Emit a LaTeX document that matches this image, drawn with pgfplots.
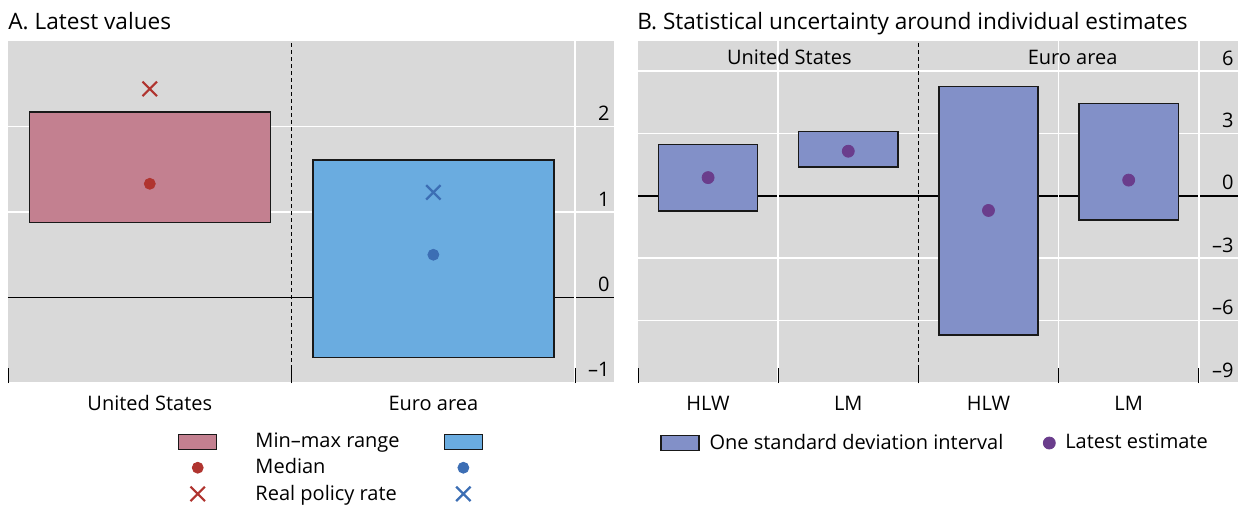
\documentclass[border=0pt]{standalone}
\usepackage{pgfplots}
\pgfplotsset{compat=1.18}
\usepackage{fontspec}
\setmainfont{Open Sans}

\definecolor{bg}{HTML}{D9D9D9}
\definecolor{usbox}{HTML}{C38090}
\definecolor{usmark}{HTML}{B0342F}
\definecolor{eabox}{HTML}{6AACE0}
\definecolor{eamark}{HTML}{3C6EB4}
\definecolor{bbox}{HTML}{8290C8}
\definecolor{bdot}{HTML}{6A3D8C}

\pgfplotsset{
  panel/.style={
    scale only axis, height=171pt,
    axis background/.style={fill=bg},
    axis line style={draw=none},
    ymajorgrids, major grid style={white, line width=0.8pt},
    xtick pos=bottom, ytick pos=right, yticklabel pos=right,
    major tick length=0pt,
    tick label style={font=\fontsize{10}{12}\selectfont},
    yticklabel style={anchor=base east, inner xsep=0pt, xshift=-2pt, yshift=3pt},
    xticklabel style={anchor=base, yshift=-13.8pt},
    legend cell align=left,
    legend style={draw=none, fill=none, inner sep=0pt, outer sep=0pt,
      font=\fontsize{10}{12}\selectfont},
    clip=false,
  },
  rangebox/.style={fill=#1, draw=black!90, line width=0.75pt, line join=miter},
  boxleg/.style={legend image code/.code={\draw[##1] (0pt,-3.75pt) rectangle (19pt,3.75pt);}},
  markleg/.style={legend image code/.code={\draw[##1] plot coordinates {(9.5pt,0pt)};}},
}
\tikzset{sep tick/.style={black, line width=0.6pt}}

\begin{document}
\begin{tikzpicture}
\useasboundingbox (0,0) rectangle (623pt,-253.5pt);
\node[anchor=base west, inner sep=0pt, font=\fontsize{11.3}{13}\selectfont] at (4pt,-14.7pt) {A. Latest values};
\node[anchor=base west, inner sep=0pt, font=\fontsize{11.3}{13}\selectfont] at (318.5pt,-14.7pt) {B. Statistical uncertainty around individual estimates};

% Panel A
\begin{axis}[panel, at={(4pt,-191.5pt)}, anchor=south west, width=303pt,
  xmin=-0.5, xmax=1.637, ymin=-1, ymax=3,
  xtick={0,1}, xticklabels={United States, Euro area},
  ytick={-1,0,1,2}, yticklabels={–1,0,1,2},
  legend columns=2,
  legend style={at={(axis description cs:0.2805,-0.2485)}, anchor=west,
    row sep=0pt,
    /tikz/every odd column/.append style={column sep=17pt},
    /tikz/every even column/.append style={column sep=20pt}},
]
\addplot[black, line width=0.6pt, forget plot] coordinates {(-0.5,0) (1.637,0)};
\draw[white, line width=0.8pt] (axis cs:1.5,-1) -- (axis cs:1.5,3);
\draw[black, line width=0.5pt, dash pattern=on 2pt off 1.5pt] (axis cs:0.5,-1) -- (axis cs:0.5,3);
\addplot[boxleg, rangebox=usbox]
  coordinates {(-0.425,0.88) (0.425,0.88) (0.425,2.17) (-0.425,2.17)} -- cycle;
\addlegendentry{Min–max range}
\addplot[boxleg, rangebox=eabox]
  coordinates {(0.575,-0.70) (1.425,-0.70) (1.425,1.61) (0.575,1.61)} -- cycle;
\addlegendentry{}
\addplot[markleg, only marks, mark=*, mark size=2.75pt, color=usmark] coordinates {(0,1.33)};
\addlegendentry{Median}
\addplot[markleg, only marks, mark=*, mark size=2.75pt, color=eamark] coordinates {(1,0.50)};
\addlegendentry{}
\addplot[markleg, only marks, mark=x, mark size=5.1pt, line width=1.1pt, color=usmark] coordinates {(0,2.44)};
\addlegendentry{Real policy rate}
\addplot[markleg, only marks, mark=x, mark size=5.1pt, line width=1.1pt, color=eamark] coordinates {(1,1.23)};
\addlegendentry{}
\draw[sep tick] (axis cs:-0.498,-1) -- (axis cs:-0.498,-0.8246);
\draw[sep tick] (axis cs:0.5,-1) -- (axis cs:0.5,-0.8246);
\draw[sep tick] (axis cs:1.5,-1) -- (axis cs:1.5,-0.8246);
\end{axis}

% Panel B
\begin{axis}[panel, at={(319pt,-191.5pt)}, anchor=south west, width=300pt,
  xmin=-0.5, xmax=3.78, ymin=-9, ymax=7.45,
  xtick={0,1,2,3}, xticklabels={HLW,LM,HLW,LM},
  ytick={-9,-6,-3,0,3,6}, yticklabels={–9,–6,–3,0,3,6},
  legend columns=2,
  legend style={at={(axis description cs:0.0367,-0.1755)}, anchor=west,
    /tikz/every odd column/.append style={column sep=3pt},
    /tikz/every even column/.append style={column sep=18pt}},
]
\addplot[black, line width=0.6pt, forget plot] coordinates {(-0.5,0) (3.78,0)};
\draw[white, line width=0.8pt] (axis cs:0.5,-9) -- (axis cs:0.5,7.45);
\draw[white, line width=0.8pt] (axis cs:2.5,-9) -- (axis cs:2.5,7.45);
\draw[white, line width=0.8pt] (axis cs:3.5,-9) -- (axis cs:3.5,7.45);
\draw[black, line width=0.5pt, dash pattern=on 2pt off 1.5pt] (axis cs:1.5,-9) -- (axis cs:1.5,7.45);
\node[font=\fontsize{10}{12}\selectfont] at (axis cs:0.58,6.66) {United States};
\node[font=\fontsize{10}{12}\selectfont] at (axis cs:2.6,6.66) {Euro area};
\addplot[rangebox=bbox, forget plot]
  coordinates {(-0.354,-0.73) (0.354,-0.73) (0.354,2.48) (-0.354,2.48)} -- cycle;
\addplot[rangebox=bbox, forget plot]
  coordinates {(0.646,1.39) (1.354,1.39) (1.354,3.09) (0.646,3.09)} -- cycle;
\addplot[rangebox=bbox, forget plot]
  coordinates {(1.646,-6.69) (2.354,-6.69) (2.354,5.27) (1.646,5.27)} -- cycle;
\addplot[boxleg, rangebox=bbox]
  coordinates {(2.646,-1.15) (3.354,-1.15) (3.354,4.44) (2.646,4.44)} -- cycle;
\addlegendentry{One standard deviation interval}
\addplot[markleg, only marks, mark=*, mark size=3pt, color=bdot]
  coordinates {(0,0.88) (1,2.15) (2,-0.70) (3,0.76)};
\addlegendentry{Latest estimate}
\draw[sep tick] (axis cs:-0.498,-9) -- (axis cs:-0.498,-8.28);
\draw[sep tick] (axis cs:0.5,-9) -- (axis cs:0.5,-8.28);
\draw[sep tick] (axis cs:1.5,-9) -- (axis cs:1.5,-8.28);
\draw[sep tick] (axis cs:2.5,-9) -- (axis cs:2.5,-8.28);
\draw[sep tick] (axis cs:3.5,-9) -- (axis cs:3.5,-8.28);
\end{axis}
\end{tikzpicture}
\end{document}
